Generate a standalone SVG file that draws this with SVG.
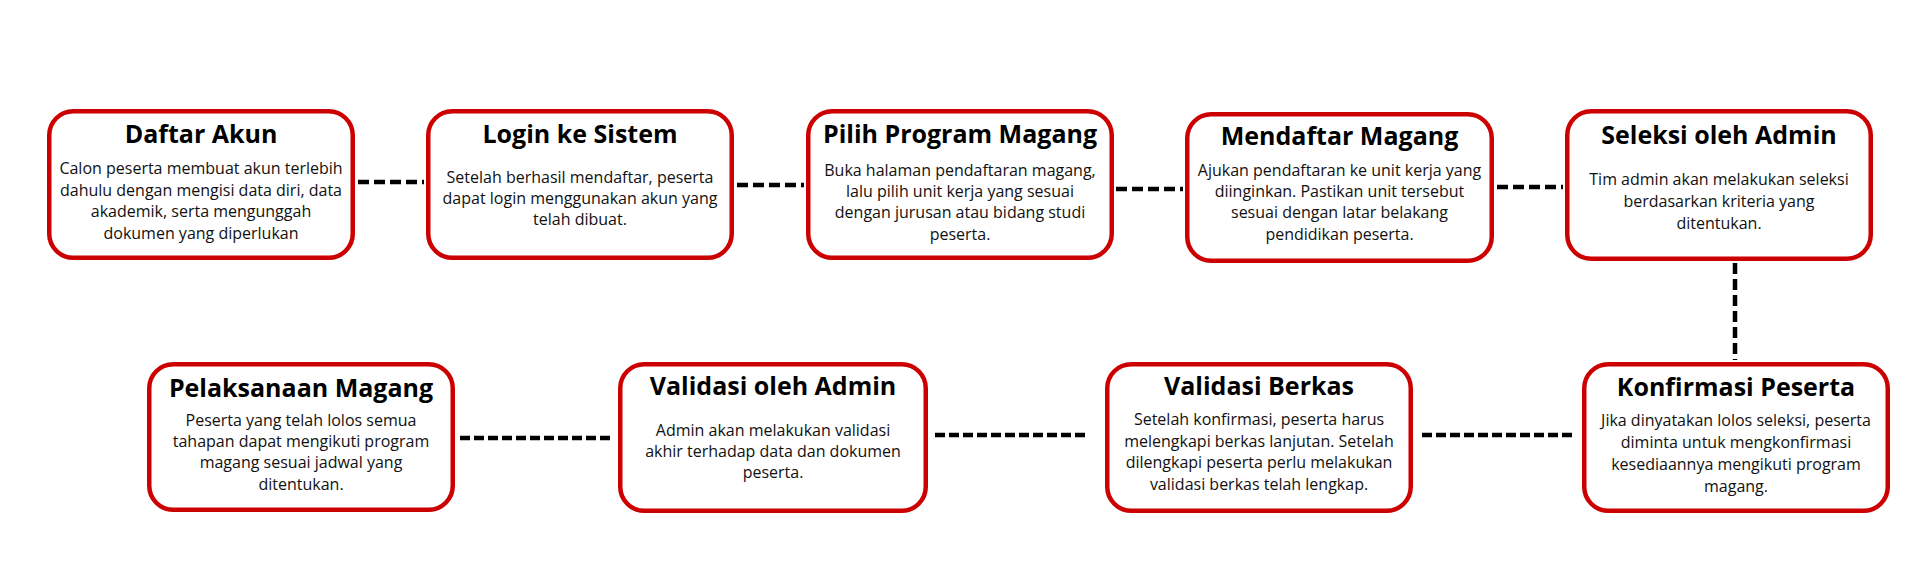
<svg xmlns="http://www.w3.org/2000/svg" width="1920" height="588" viewBox="0 0 1920 588">
<style>
.box{fill:#ffffff;stroke:#cc0000;stroke-width:4.5}
.t{font-family:"Open Sans","Noto Sans",sans-serif;font-weight:700;font-size:25px;fill:#000;text-anchor:middle}
.b{font-family:"Open Sans","Noto Sans",sans-serif;font-size:16px;fill:#111;text-anchor:middle}
.c{stroke:#000;stroke-width:4.5;fill:none;stroke-dasharray:11 5}
.c2{stroke:#000;stroke-width:4.5;fill:none;stroke-dasharray:10 4}
</style>
<rect width="1920" height="588" fill="#ffffff"/>
<g id="connectors">
<line class="c" x1="358" y1="182" x2="424" y2="182"/>
<line class="c" x1="737" y1="185" x2="804" y2="185"/>
<line class="c" x1="1116" y1="189" x2="1183" y2="189"/>
<line class="c" x1="1497" y1="187" x2="1563" y2="187"/>
<line class="c" x1="1735" y1="263" x2="1735" y2="360"/>
<line class="c2" x1="1422" y1="435" x2="1574" y2="435"/>
<line class="c2" x1="935" y1="435" x2="1089" y2="435"/>
<line class="c2" x1="460" y1="438" x2="614" y2="438"/>
</g>
<g id="daftar-akun">
<rect class="box" x="49.25" y="111.25" width="303.5" height="146.5" rx="24"/>
<text class="t" x="201" y="143">Daftar Akun</text>
<text class="b" x="201" y="174">Calon peserta membuat akun terlebih</text>
<text class="b" x="201" y="196">dahulu dengan mengisi data diri, data</text>
<text class="b" x="201" y="217">akademik, serta mengunggah</text>
<text class="b" x="201" y="239">dokumen yang diperlukan</text>
</g>
<g id="login">
<rect class="box" x="428.25" y="111.25" width="303.5" height="146.5" rx="24"/>
<text class="t" x="580" y="143">Login ke Sistem</text>
<text class="b" x="580" y="183">Setelah berhasil mendaftar, peserta</text>
<text class="b" x="580" y="204">dapat login menggunakan akun yang</text>
<text class="b" x="580" y="225">telah dibuat.</text>
</g>
<g id="pilih-program">
<rect class="box" x="808.25" y="111.25" width="303.5" height="146.5" rx="24"/>
<text class="t" x="960" y="143">Pilih Program Magang</text>
<text class="b" x="960" y="176">Buka halaman pendaftaran magang,</text>
<text class="b" x="960" y="197">lalu pilih unit kerja yang sesuai</text>
<text class="b" x="960" y="218">dengan jurusan atau bidang studi</text>
<text class="b" x="960" y="240">peserta.</text>
</g>
<g id="mendaftar-magang">
<rect class="box" x="1187.25" y="114.25" width="304.5" height="146.5" rx="24"/>
<text class="t" x="1339.5" y="145">Mendaftar Magang</text>
<text class="b" x="1339.5" y="176">Ajukan pendaftaran ke unit kerja yang</text>
<text class="b" x="1339.5" y="197">diinginkan. Pastikan unit tersebut</text>
<text class="b" x="1339.5" y="218">sesuai dengan latar belakang</text>
<text class="b" x="1339.5" y="240">pendidikan peserta.</text>
</g>
<g id="seleksi-admin">
<rect class="box" x="1567.25" y="111.25" width="303.5" height="147.5" rx="24"/>
<text class="t" x="1719" y="144">Seleksi oleh Admin</text>
<text class="b" x="1719" y="185">Tim admin akan melakukan seleksi</text>
<text class="b" x="1719" y="207">berdasarkan kriteria yang</text>
<text class="b" x="1719" y="229">ditentukan.</text>
</g>
<g id="konfirmasi-peserta">
<rect class="box" x="1584.25" y="364.25" width="303.5" height="146.5" rx="24"/>
<text class="t" x="1736" y="396">Konfirmasi Peserta</text>
<text class="b" x="1736" y="426">Jika dinyatakan lolos seleksi, peserta</text>
<text class="b" x="1736" y="448">diminta untuk mengkonfirmasi</text>
<text class="b" x="1736" y="470">kesediaannya mengikuti program</text>
<text class="b" x="1736" y="492">magang.</text>
</g>
<g id="validasi-berkas">
<rect class="box" x="1107.25" y="364.25" width="303.5" height="146.5" rx="24"/>
<text class="t" x="1259" y="395">Validasi Berkas</text>
<text class="b" x="1259" y="425">Setelah konfirmasi, peserta harus</text>
<text class="b" x="1259" y="447">melengkapi berkas lanjutan. Setelah</text>
<text class="b" x="1259" y="468">dilengkapi peserta perlu melakukan</text>
<text class="b" x="1259" y="490">validasi berkas telah lengkap.</text>
</g>
<g id="validasi-admin">
<rect class="box" x="620.25" y="364.25" width="305.5" height="146.5" rx="24"/>
<text class="t" x="773" y="395">Validasi oleh Admin</text>
<text class="b" x="773" y="436">Admin akan melakukan validasi</text>
<text class="b" x="773" y="457">akhir terhadap data dan dokumen</text>
<text class="b" x="773" y="478">peserta.</text>
</g>
<g id="pelaksanaan-magang">
<rect class="box" x="149.25" y="364.25" width="303.5" height="145.5" rx="24"/>
<text class="t" x="301" y="397">Pelaksanaan Magang</text>
<text class="b" x="301" y="426">Peserta yang telah lolos semua</text>
<text class="b" x="301" y="447">tahapan dapat mengikuti program</text>
<text class="b" x="301" y="468">magang sesuai jadwal yang</text>
<text class="b" x="301" y="490">ditentukan.</text>
</g>
</svg>
